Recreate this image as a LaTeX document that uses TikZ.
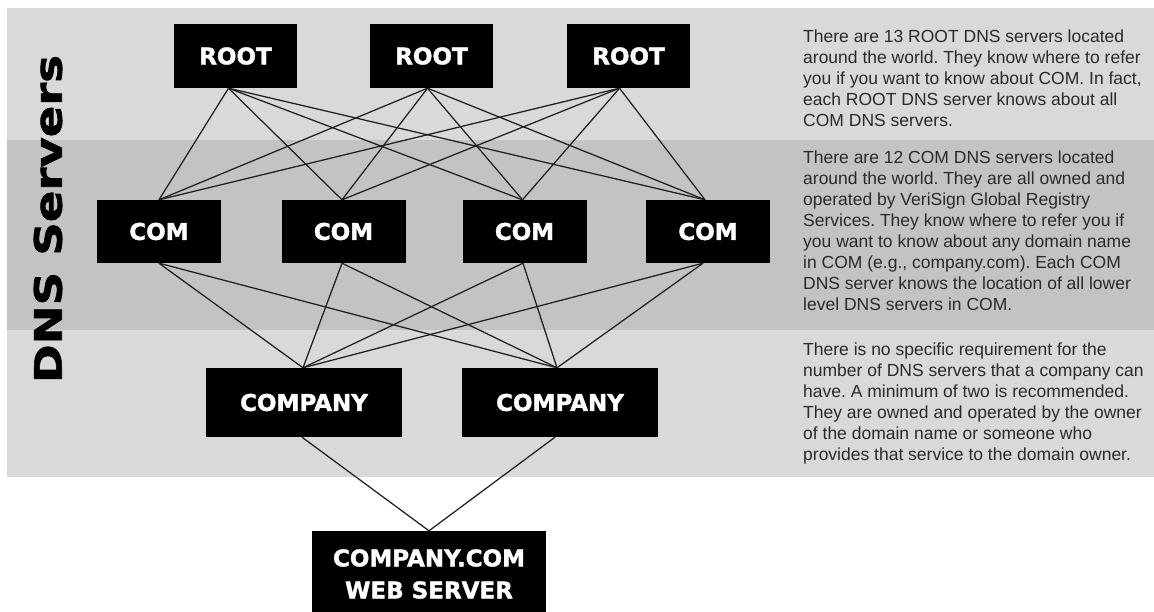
\documentclass[tikz,border=0pt]{standalone}
\usepackage{fontspec}
\setmainfont{Liberation Sans}
\newfontfamily\labelfont{DejaVu Sans}[BoldFeatures={FakeBold=1.6}]
\usepackage{graphicx}
\definecolor{bandlight}{HTML}{D9D9D9}
\definecolor{banddark}{HTML}{C3C3C3}
\definecolor{notecol}{HTML}{2A2A2A}
\begin{document}
\frenchspacing
\begin{tikzpicture}[x=1pt,y=-1pt,
  srvbox/.style={fill=black,text=white,inner sep=0pt,align=center,
    font=\labelfont\bfseries\fontsize{23}{32}\selectfont},
  rootbox/.style={srvbox,minimum width=123,minimum height=64},
  combox/.style={srvbox,minimum width=124,minimum height=63},
  companybox/.style={srvbox,minimum width=196,minimum height=69},
  link/.style={draw=black!88,line width=1.25pt},
  note/.style={anchor=north west,inner sep=0pt,align=left,text=notecol,
    font=\frenchspacing\fontsize{17.5}{21}\selectfont}]
\useasboundingbox (0,0) rectangle (1154,612);
\clip (0,0) rectangle (1154,612);
% bands
\fill[bandlight] (7,8) rectangle (1154,140);
\fill[banddark] (7,140) rectangle (1154,330);
\fill[bandlight] (7,330) rectangle (1154,477);
% side label
\node[rotate=90,inner sep=0pt] (side) at (48,219)
  {\resizebox{328pt}{28pt}{\labelfont\bfseries DNS Servers}};
% servers
\node[rootbox] (r1) at (235.5,56) {ROOT};
\node[rootbox] (r2) at (431.5,56) {ROOT};
\node[rootbox] (r3) at (628.5,56) {ROOT};
\node[combox] (c1) at (159,231.5) {COM};
\node[combox] (c2) at (343.5,231.5) {COM};
\node[combox] (c3) at (524.5,231.5) {COM};
\node[combox] (c4) at (708,231.5) {COM};
\node[companybox] (k1) at (304,402.5) {COMPANY};
\node[companybox] (k2) at (560,402.5) {COMPANY};
\node[srvbox,minimum width=234,minimum height=86] (web) at (429,574)
  {COMPANY.COM\\WEB SERVER};
% root -> com
\foreach \r/\s in {r1/-7,r2/-4,r3/-9}{
  \foreach \c/\t in {c1/0,c2/-1.5,c3/-2,c4/-3}{
    \draw[link] ([xshift=\s pt]\r.south) -- ([xshift=\t pt]\c.north);
  }
}
% com -> company
\foreach \c/\t in {c1/0,c2/-1.5,c3/-1.5,c4/-5}{
  \foreach \k/\u in {k1/-1,k2/-3}{
    \draw[link] ([xshift=\t pt]\c.south) -- ([xshift=\u pt]\k.north);
  }
}
% company -> web
\draw[link] ([xshift=-2pt]k1.south) -- (web.north);
\draw[link] ([xshift=-5pt]k2.south) -- (web.north);
% notes
\node[note] (n1) at (803,29) {\rule{0pt}{13pt}There are 13 ROOT DNS servers located\\
around the world. They know where to refer\\
you if you want to know about COM. In fact,\\
each ROOT DNS server knows about all\\
COM DNS servers.};
\node[note] (n2) at (803,150) {\rule{0pt}{13pt}There are 12 COM DNS servers located\\
around the world. They are all owned and\\
operated by VeriSign Global Registry\\
Services. They know where to refer you if\\
you want to know about any domain name\\
in COM (e.g., company.com). Each COM\\
DNS server knows the location of all lower\\
level DNS servers in COM.};
\node[note] (n3) at (803,342) {\rule{0pt}{13pt}There is no specific requirement for the\\
number of DNS servers that a company can\\
have. A minimum of two is recommended.\\
They are owned and operated by the owner\\
of the domain name or someone who\\
provides that service to the domain owner.};
\end{tikzpicture}
\end{document}
